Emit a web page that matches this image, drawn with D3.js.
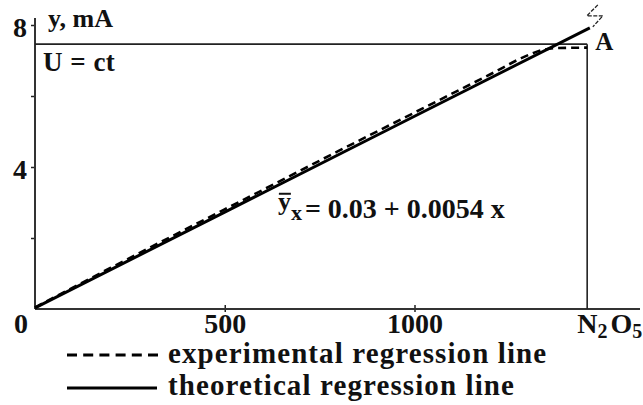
<!DOCTYPE html>
<html>
<head>
<meta charset="utf-8">
<script src="https://cdn.jsdelivr.net/npm/d3@7"></script>
<style>
  body { margin: 0; background: #fff; }
  text { font-family: "Liberation Serif", "Times New Roman", serif; font-weight: bold; fill: #111; }
</style>
</head>
<body>
<div id="wrapper"></div>
<script>
// values
const theoX = [0, 500, 1000, 1462]
const theoY = [0.03, 2.73, 5.43, 7.92]
const expX = [0, 200, 400, 600, 800, 1000, 1200, 1300, 1340, 1380, 1455]
const expY = [0, 1.12, 2.22, 3.31, 4.41, 5.49, 6.57, 7.11, 7.26, 7.31, 7.32]
const limitX = 1455   // N2O5 point
const limitY = 7.46   // U = ct level
const yTicks = [2, 4, 6, 8]
const yLabels = [4, 8]
const xTicks = [500, 1000]

function drawChart() {
  const dimensions = {
    width: 643,
    height: 405,
    x0: 35,
    x1000: 414.5,
    y0: 309,
    y8: 25,
  }

  const svg = d3.select("#wrapper")
    .append("svg")
    .attr("width", dimensions.width)
    .attr("height", dimensions.height)

  const xScaler = d3.scaleLinear()
    .domain([0, 1000])
    .range([dimensions.x0, dimensions.x1000])
  const yScaler = d3.scaleLinear()
    .domain([0, 8])
    .range([dimensions.y0, dimensions.y8])

  // axes
  const yAxisGen = d3.axisLeft(yScaler)
    .tickValues(yTicks)
    .tickSize(4)
    .tickPadding(4)
    .tickFormat(d => yLabels.includes(d) ? d : "")
  const yAxis = svg.append("g")
    .attr("transform", `translate(${dimensions.x0},0)`)
    .call(yAxisGen)
  yAxis.select(".domain").remove()
  yAxis.selectAll("line").attr("stroke", "#222").attr("stroke-width", 1.5)
  yAxis.selectAll("text").attr("font-size", 28).attr("dy", "0.42em")

  const xAxisGen = d3.axisBottom(xScaler)
    .tickValues(xTicks)
    .tickSize(0)
    .tickPadding(4)
    .tickFormat(d3.format("d"))
  const xAxis = svg.append("g")
    .attr("transform", `translate(0,${dimensions.y0})`)
    .call(xAxisGen)
  xAxis.select(".domain").remove()
  xAxis.selectAll(".tick line").attr("y1", -4).attr("y2", 3).attr("stroke", "#222").attr("stroke-width", 1.5)
  xAxis.selectAll("text").attr("font-size", 28).attr("dy", "0.71em")
  svg.selectAll("g").attr("font-family", null)

  // axis lines
  svg.append("line")
    .attr("x1", xScaler(0)).attr("x2", xScaler(0))
    .attr("y1", yScaler(8.2)).attr("y2", yScaler(0))
    .attr("stroke", "#333").attr("stroke-width", 2)
  svg.append("line")
    .attr("x1", xScaler(0)).attr("x2", dimensions.width - 3)
    .attr("y1", yScaler(0)).attr("y2", yScaler(0))
    .attr("stroke", "#333").attr("stroke-width", 2)

  // limit lines
  svg.append("line")
    .attr("x1", xScaler(0)).attr("x2", xScaler(limitX))
    .attr("y1", yScaler(limitY)).attr("y2", yScaler(limitY))
    .attr("stroke", "#222").attr("stroke-width", 1.6)
  svg.append("line")
    .attr("x1", xScaler(limitX)).attr("x2", xScaler(limitX))
    .attr("y1", yScaler(limitY)).attr("y2", yScaler(0))
    .attr("stroke", "#222").attr("stroke-width", 1.6)

  // regression lines
  const lineGen = d3.line()
    .x(d => xScaler(d[0]))
    .y(d => yScaler(d[1]))
  svg.append("path")
    .attr("d", lineGen(theoX.map((x, i) => [x, theoY[i]])))
    .attr("fill", "none").attr("stroke", "#000").attr("stroke-width", 3)
  svg.append("path")
    .attr("d", lineGen.curve(d3.curveMonotoneX)(expX.map((x, i) => [x, expY[i]])))
    .attr("fill", "none").attr("stroke", "#000").attr("stroke-width", 2.6)
    .attr("stroke-dasharray", "8,5")
    .attr("transform", "translate(0,-1.5)")

  // break mark at the end of the theoretical line
  const ex = xScaler(theoX[theoX.length - 1])
  const ey = yScaler(theoY[theoY.length - 1])
  svg.append("path")
    .attr("d", `M${ex + 8},${ey - 23} L${ex - 3},${ey - 12} L${ex + 13},${ey - 12} L${ex + 3},${ey - 1}`)
    .attr("fill", "none").attr("stroke", "#222").attr("stroke-width", 1.3)
    .attr("stroke-dasharray", "4,1.5")

  // labels
  svg.append("text")
    .attr("x", xScaler(0) + 13).attr("y", yScaler(8) + 2)
    .attr("font-size", 26)
    .text("y, mA")
  svg.append("text")
    .attr("x", xScaler(0) + 8).attr("y", yScaler(limitY) + 27)
    .attr("font-size", 27)
    .attr("letter-spacing", 0.5)
    .text("U = ct")
  svg.append("text")
    .attr("x", xScaler(limitX) + 8).attr("y", yScaler(limitY) + 6)
    .attr("font-size", 25)
    .text("A")
  svg.append("text")
    .attr("x", xScaler(0) - 14).attr("y", yScaler(0) + 24)
    .attr("font-size", 28)
    .attr("text-anchor", "middle")
    .text("0")
  const n2o5 = svg.append("text")
    .attr("x", xScaler(limitX) - 10).attr("y", yScaler(0) + 24)
    .attr("font-size", 28)
  n2o5.append("tspan").text("N")
  n2o5.append("tspan").attr("font-size", 20).attr("dy", 5).text("2")
  n2o5.append("tspan").attr("dy", -5).attr("dx", 3).text("O")
  n2o5.append("tspan").attr("font-size", 20).attr("dy", 5).text("5")

  // equation
  const eqX = xScaler(640)
  const eqY = yScaler(2.57)
  const eq = svg.append("text")
    .attr("x", eqX).attr("y", eqY - 8)
    .attr("font-size", 26)
  eq.append("tspan").text("y")
  eq.append("tspan").attr("font-size", 22).attr("dy", 10).attr("dx", 0).text("x")
  eq.append("tspan").attr("font-size", 28).attr("dy", -2).attr("dx", 3).text("= 0.03 + 0.0054 x")
  svg.append("line")
    .attr("x1", eqX + 1).attr("x2", eqX + 13)
    .attr("y1", eqY - 24).attr("y2", eqY - 24)
    .attr("stroke", "#111").attr("stroke-width", 2)

  // legend
  const legend = svg.append("g")
  legend.append("line")
    .attr("x1", 67).attr("x2", 158).attr("y1", 355).attr("y2", 355)
    .attr("stroke", "#000").attr("stroke-width", 3)
    .attr("stroke-dasharray", "10,6.2")
  legend.append("text")
    .attr("x", 168).attr("y", 363)
    .attr("font-size", 29)
    .attr("letter-spacing", 1.1)
    .text("experimental regression line")
  legend.append("line")
    .attr("x1", 67).attr("x2", 157).attr("y1", 388).attr("y2", 388)
    .attr("stroke", "#000").attr("stroke-width", 3)
  legend.append("text")
    .attr("x", 168).attr("y", 395)
    .attr("font-size", 29)
    .attr("letter-spacing", 1.1)
    .text("theoretical regression line")
}
drawChart()
</script>
</body>
</html>
